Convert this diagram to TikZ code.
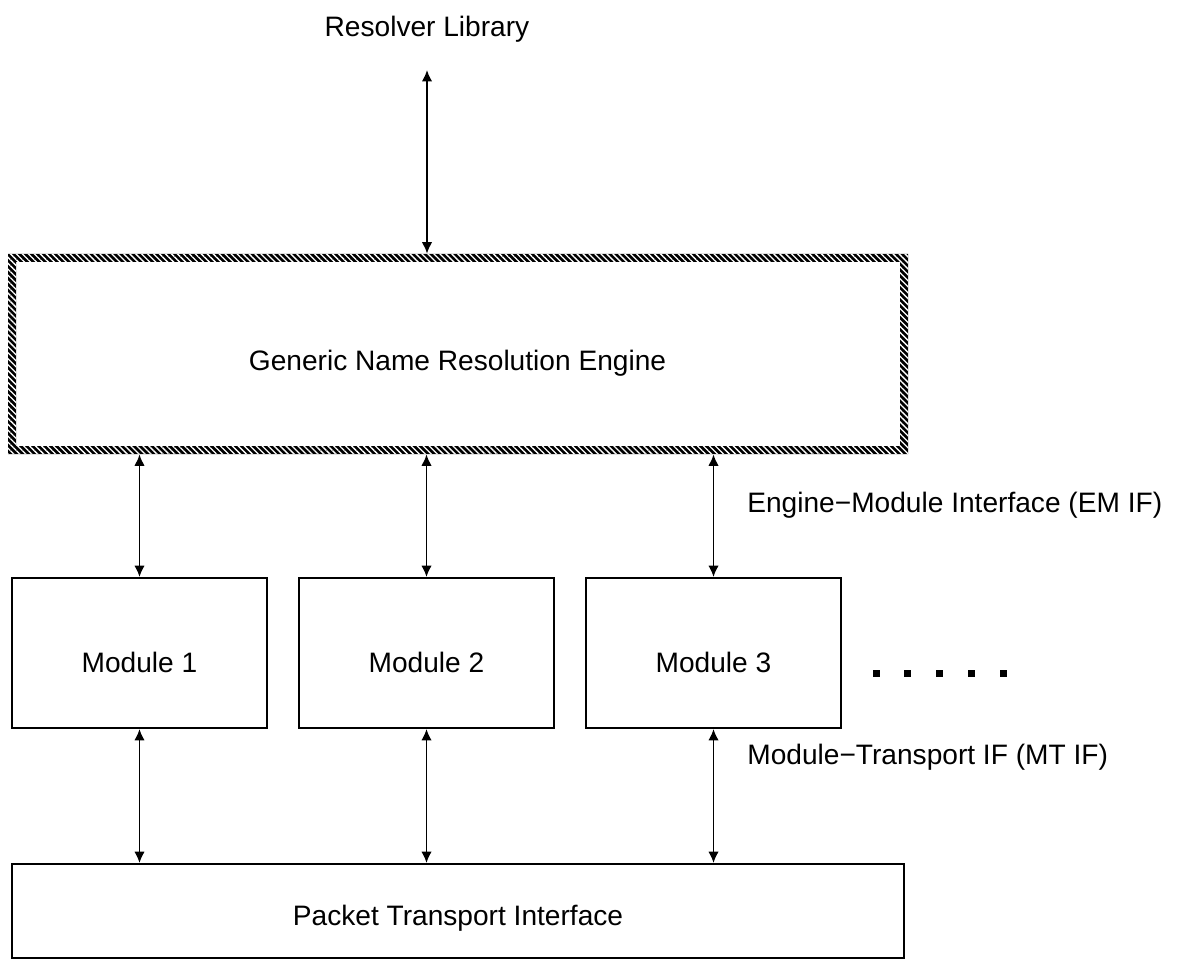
\documentclass[tikz,border=0pt]{standalone}
\usepackage{fontspec}
\setmainfont{Liberation Sans}
\usetikzlibrary{arrows.meta,fit,patterns.meta}

\tikzset{
  box/.style={draw=black, line width=1.1pt, inner sep=0pt, fill=none},
  frame/.style={inner sep=0pt},
  lbl/.style={inner sep=0pt, font=\fontsize{16}{19}\selectfont},
  link/.style={line width=1.1pt, {Latex[length=6.5pt,width=6pt]}-{Latex[length=6.5pt,width=6pt]}},
  dot/.style={fill=black},
}

\begin{document}
\begin{tikzpicture}[x=0.02cm, y=-0.02cm]
  \useasboundingbox (0,0) rectangle (1185,959);

  % hatched frame of the engine
  \fill[black, even odd rule] (8,254) rectangle (908,454) (16,262) rectangle (900,446);
  \fill[even odd rule, pattern={Lines[angle=-45,distance=2.4pt,line width=0.75pt]}, pattern color=white]
    (8,254) rectangle (908,454) (16,262) rectangle (900,446);
  \node[frame, fit={(8,254)(908,454)}] (engine) {};
  \node[lbl, anchor=base] at (457.5,370) {Generic Name Resolution Engine};

  % modules
  \node[box, fit={(12,578)(267,728)}] (m1) {};
  \node[box, fit={(299,578)(554,728)}] (m2) {};
  \node[box, fit={(586,578)(841,728)}] (m3) {};
  \node[lbl, anchor=base] at (139.5,672) {Module 1};
  \node[lbl, anchor=base] at (426.5,672) {Module 2};
  \node[lbl, anchor=base] at (713.5,672) {Module 3};

  % transport
  \node[box, fit={(12,864)(904,958)}] (pt) {};
  \node[lbl, anchor=base] at (458,925) {Packet Transport Interface};

  % resolver library
  \node[lbl, anchor=base] (rl) at (427,37) {Resolver Library};
  \coordinate (rlend) at (427,70);

  % interface labels
  \node[lbl, anchor=base west] (em) at (747,512) {Engine−Module Interface (EM IF)};
  \node[lbl, anchor=base west] (mt) at (747,764) {Module−Transport IF (MT IF)};

  % continuation dots
  \foreach \i/\x in {1/876,2/907.5,3/939,4/971,5/1003}
    \fill[dot] (\x-3.5,669.5) rectangle (\x+3.5,676.5);

  % connectors
  \draw[link] (rlend) -- (engine.north -| rlend);
  \draw[link] (engine.south -| m1.north) -- (m1.north);
  \draw[link] (engine.south -| m2.north) -- (m2.north);
  \draw[link] (engine.south -| m3.north) -- (m3.north);
  \draw[link] (m1.south) -- (pt.north -| m1.south);
  \draw[link] (m2.south) -- (pt.north -| m2.south);
  \draw[link] (m3.south) -- (pt.north -| m3.south);
\end{tikzpicture}
\end{document}
